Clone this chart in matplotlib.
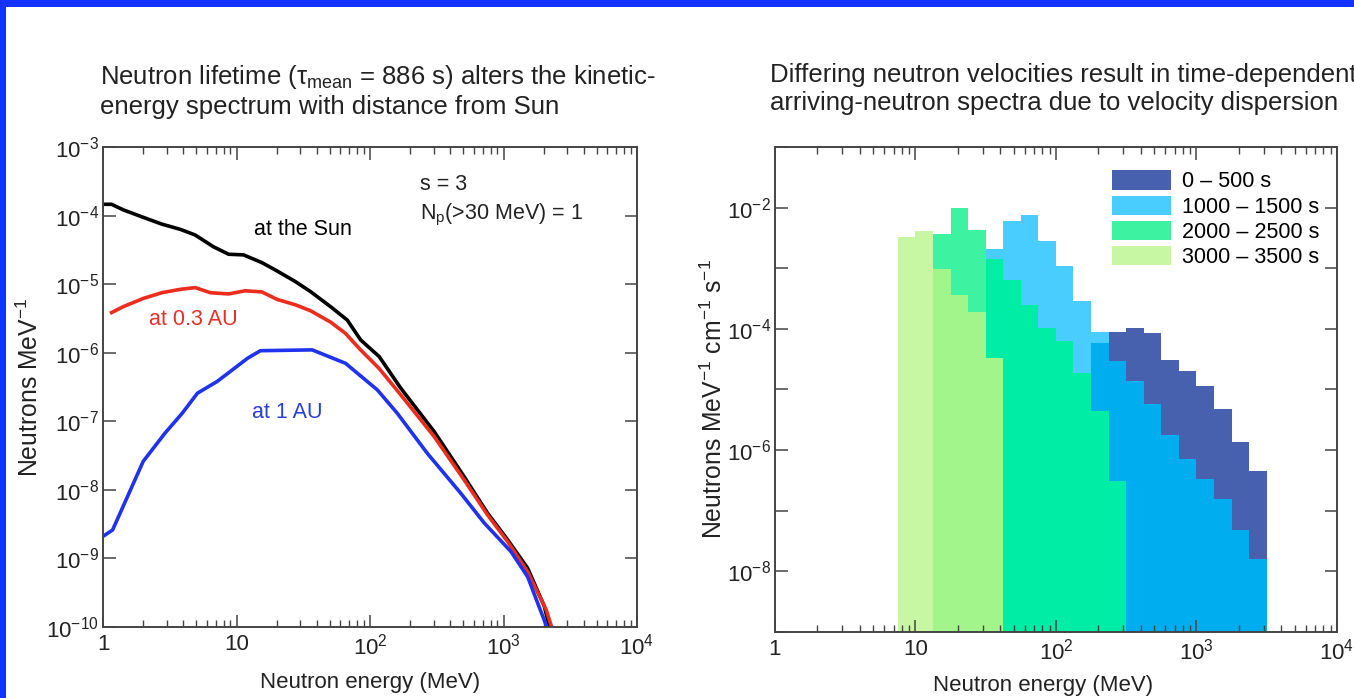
import numpy as np
import matplotlib
matplotlib.use("Agg")
import matplotlib.pyplot as plt
from matplotlib.patches import Patch, Rectangle
from matplotlib.ticker import FuncFormatter, LogLocator, NullLocator, NullFormatter

plt.rcParams['font.family'] = ['Liberation Sans', 'DejaVu Sans']
plt.rcParams['mathtext.fontset'] = 'custom'
plt.rcParams['mathtext.rm'] = 'Liberation Sans'
plt.rcParams['mathtext.it'] = 'Liberation Sans:italic'
plt.rcParams['mathtext.bf'] = 'Liberation Sans:bold'

# ---- left: spectrum at the Sun, at 0.3 AU and at 1 AU (neutrons / MeV) ----
sun_E = [1.0, 1.16, 1.42, 2.01, 2.76, 3.79, 4.91, 6.73, 8.73, 11.3, 15.5, 20.1, 27.6,
         35.8, 50.6, 67.5, 85, 117, 170, 302, 507, 760, 1074, 1517, 2023, 2205]
sun_N = [1.46e-4, 1.46e-4, 1.21e-4, 9.4e-5, 7.5e-5, 6.3e-5, 5.2e-5, 3.5e-5, 2.73e-5,
         2.67e-5, 2.06e-5, 1.56e-5, 1.09e-5, 7.8e-6, 4.7e-6, 3.0e-6, 1.54e-6, 8.8e-7,
         3.04e-7, 7.1e-8, 1.56e-8, 4.57e-9, 1.87e-9, 7.2e-10, 2.0e-10, 1.0e-10]

au03_E = [1.16, 1.42, 2.01, 2.76, 3.79, 4.91, 6.36, 8.73, 11.6, 15.5, 20.1, 27.6, 35.8,
          50.6, 65.4, 85, 117, 170, 302, 507, 760, 1074, 1517, 2089, 2295]
au03_N = [3.85e-6, 4.7e-6, 6.2e-6, 7.5e-6, 8.4e-6, 8.9e-6, 7.5e-6, 7.2e-6, 8.0e-6, 7.7e-6,
          6.0e-6, 5.0e-6, 4.1e-6, 2.8e-6, 1.92e-6, 1.1e-6, 5.9e-7, 2.43e-7, 6.0e-8,
          1.4e-8, 4.3e-9, 1.76e-9, 6.4e-10, 1.78e-10, 1.0e-10]

au1_E = [1.0, 1.18, 2.0, 2.91, 3.92, 5.1, 7.15, 8.95, 12.1, 15.1, 36.9, 65.6, 113.5, 160,
         269, 479, 716, 1137, 1517, 2080]
au1_N = [2.1e-9, 2.6e-9, 2.6e-8, 6.7e-8, 1.31e-7, 2.57e-7, 3.8e-7, 5.3e-7, 8.3e-7, 1.07e-6,
         1.10e-6, 7.0e-7, 2.87e-7, 1.31e-7, 3.4e-8, 8.9e-9, 3.3e-9, 1.26e-9, 5.4e-10, 1.08e-10]

# ---- right: arriving spectra per time window, 1/8-decade energy bins ----
bin_edges = [7.50, 10.0, 13.3, 17.8, 23.7, 31.6, 42.2, 56.2, 75.0, 100, 133, 178, 237,
             316, 422, 562, 750, 1000, 1334, 1778, 2371, 3162]

t0_500_first = 12
t0_500 = [9.0e-5, 1.03e-4, 8.7e-5, 3.1e-5, 2.0e-5, 1.16e-5, 4.7e-6, 1.37e-6, 4.5e-7]
t500_1000_first = 11
t500_1000 = [5.8e-5, 2.9e-5, 1.37e-5, 5.7e-6, 1.76e-6, 7.1e-7, 3.35e-7, 1.57e-7, 4.9e-8, 1.63e-8]
t1000_1500_first = 5
t1000_1500 = [2.1e-3, 6.1e-3, 7.7e-3, 2.8e-3, 1.08e-3, 2.9e-4, 9.0e-5]
t1500_2000_first = 5
t1500_2000 = [1.44e-3, 6.4e-4, 2.5e-4, 1.04e-4, 6.2e-5, 1.88e-5, 4.4e-6, 3.1e-7]
t2000_2500_first = 2
t2000_2500 = [3.7e-3, 1.0e-2, 4.2e-3]
t2500_3000_first = 2
t2500_3000 = [9.9e-4, 3.6e-4, 1.9e-4, 3.3e-5]
t3000_3500_first = 0
t3000_3500 = [3.3e-3, 4.1e-3]

windows = ['0 \u2013 500 s', '500 \u2013 1000 s', '1000 \u2013 1500 s', '1500 \u2013 2000 s',
           '2000 \u2013 2500 s', '2500 \u2013 3000 s', '3000 \u2013 3500 s']
window_colors = ['#4761ae', '#00adee', '#48cdfe', '#00eda6', '#3df3a2', '#a2f58a', '#c8f7a3']
in_legend = [True, False, True, False, True, False, True]

hist_series = [(t0_500_first, t0_500), (t500_1000_first, t500_1000),
               (t1000_1500_first, t1000_1500), (t1500_2000_first, t1500_2000),
               (t2000_2500_first, t2000_2500), (t2500_3000_first, t2500_3000),
               (t3000_3500_first, t3000_3500)]

TXT = 15.5
TITLE = 18.5
XLAB = 16
YLAB = 17.8
TICK = 16
SPINE = '#444444'
INK = '#222222'


def decade_label(v, pos):
    n = int(round(np.log10(v)))
    if n == 0:
        return '1'
    if n == 1:
        return '10'
    return r'$\mathregular{10^{%d}}$' % n


def even_decade_label(v, pos):
    n = int(round(np.log10(v)))
    if n % 2:
        return ''
    return r'$\mathregular{10^{%d}}$' % n


def style_axes(ax):
    ax.set_xscale('log')
    ax.set_yscale('log')
    ax.set_xlim(1, 1e4)
    ax.xaxis.set_major_locator(LogLocator(base=10, numticks=10))
    ax.xaxis.set_minor_locator(LogLocator(base=10, subs=np.arange(2, 10), numticks=10))
    ax.xaxis.set_major_formatter(FuncFormatter(decade_label))
    ax.xaxis.set_minor_formatter(NullFormatter())
    ax.yaxis.set_minor_locator(NullLocator())
    ax.tick_params(which='both', direction='in', top=True, right=True,
                   colors=SPINE, labelcolor=INK, labelsize=TICK)
    ax.tick_params(which='major', length=9, width=1.1)
    ax.tick_params(which='minor', length=5, width=1.0)
    ax.tick_params(axis='x', pad=5)
    ax.tick_params(axis='y', pad=3)
    for s in ax.spines.values():
        s.set_color(SPINE)
        s.set_linewidth(1.4)


fig = plt.figure(figsize=(13.54, 6.98), dpi=100)
fig.patch.set_facecolor('white')

# blue frame along the top and left edge
fig.patches.append(Rectangle((0, 1 - 7 / 698), 1, 7 / 698, transform=fig.transFigure,
                             facecolor='#1432ff', edgecolor='none', zorder=10))
fig.patches.append(Rectangle((0, 0), 6 / 1354, 1, transform=fig.transFigure,
                             facecolor='#1432ff', edgecolor='none', zorder=10))

# ================= left panel =================
ax1 = fig.add_axes([103 / 1354, 1 - 627 / 698, 534 / 1354, 480 / 698])
style_axes(ax1)
ax1.set_ylim(1e-10, 1e-3)
ax1.yaxis.set_major_locator(LogLocator(base=10, numticks=20))
ax1.yaxis.set_major_formatter(FuncFormatter(decade_label))

ax1.plot(sun_E, sun_N, color='black', lw=2.6, solid_joinstyle='round')
ax1.plot(au03_E, au03_N, color='#ec2c1c', lw=2.6, solid_joinstyle='round')
ax1.plot(au1_E, au1_N, color='#1f33ee', lw=2.6, solid_joinstyle='round')

ax1.text(0.375, 0.829, 'at the Sun', transform=ax1.transAxes, ha='center', va='center',
         fontsize=TXT, color='black')
ax1.text(0.169, 0.640, 'at 0.3 AU', transform=ax1.transAxes, ha='center', va='center',
         fontsize=TXT, color='#e8302a')
ax1.text(0.345, 0.446, 'at 1 AU', transform=ax1.transAxes, ha='center', va='center',
         fontsize=TXT, color='#2a3fd8')
ax1.text(0.594, 0.921, 's = 3', transform=ax1.transAxes, ha='left', va='center',
         fontsize=TXT, color=INK)
ax1.text(0.594, 0.858, r'N$_\mathregular{p}$(>30 MeV) = 1', transform=ax1.transAxes,
         ha='left', va='center', fontsize=TXT, color=INK)

ax1.set_xlabel('Neutron energy (MeV)', fontsize=XLAB, color=INK)
ax1.xaxis.set_label_coords(0.5, -0.093)
ax1.set_ylabel(r'Neutrons MeV$^{\mathregular{-1}}$', fontsize=YLAB, color=INK)
ax1.yaxis.set_label_coords(-0.112, 0.5)

fig.text(100 / 1354, 1 - 63 / 698,
         'Neutron lifetime ($\\mathregular{\\tau_{mean}}$ = 886 s) alters the kinetic-\n'
         'energy spectrum with distance from Sun',
         ha='left', va='top', fontsize=TITLE, color=INK, linespacing=1.2)

# ================= right panel =================
ax2 = fig.add_axes([775 / 1354, 1 - 632 / 698, 562 / 1354, 485 / 698])
style_axes(ax2)
ax2.set_ylim(1e-9, 1e-1)
ax2.set_yticks(10.0 ** np.arange(-9, 0))
ax2.yaxis.set_major_formatter(FuncFormatter(even_decade_label))

edges = np.array(bin_edges)
floor = 1e-9
handles = []
for (first, vals), name, col, show in zip(hist_series, windows, window_colors, in_legend):
    lo = edges[first:first + len(vals)]
    hi = edges[first + 1:first + 1 + len(vals)]
    vals = np.array(vals)
    bars = ax2.bar(lo, vals - floor, width=hi - lo, bottom=floor, align='edge',
                   color=col, edgecolor='none', linewidth=0)
    # within an energy bin the lower flux sits in front, so every window stays visible
    for p, v in zip(bars, vals):
        p.set_zorder(1 - np.log10(v) / 100)
    if show:
        handles.append(Patch(facecolor=col, edgecolor='none', label=name))

ax2.legend(handles=handles, loc='upper left', bbox_to_anchor=(0.599, 0.952),
           frameon=False, fontsize=TXT, handlelength=2.75, handleheight=1.0,
           handletextpad=0.5, labelspacing=0.15, borderpad=0, borderaxespad=0)

ax2.set_xlabel('Neutron energy (MeV)', fontsize=XLAB, color=INK)
ax2.xaxis.set_label_coords(0.477, -0.089)
ax2.set_ylabel(r'Neutrons MeV$^{\mathregular{-1}}$ cm$^{\mathregular{-1}}$ s$^{\mathregular{-1}}$',
               fontsize=YLAB, color=INK)
ax2.yaxis.set_label_coords(-0.085, 0.48)

fig.text(770 / 1354, 1 - 63 / 698,
         'Differing neutron velocities result in time-dependent\n'
         'arriving-neutron spectra due to velocity dispersion',
         ha='left', va='top', fontsize=TITLE, color=INK, linespacing=1.2)

fig.savefig('out.png', dpi=100)
